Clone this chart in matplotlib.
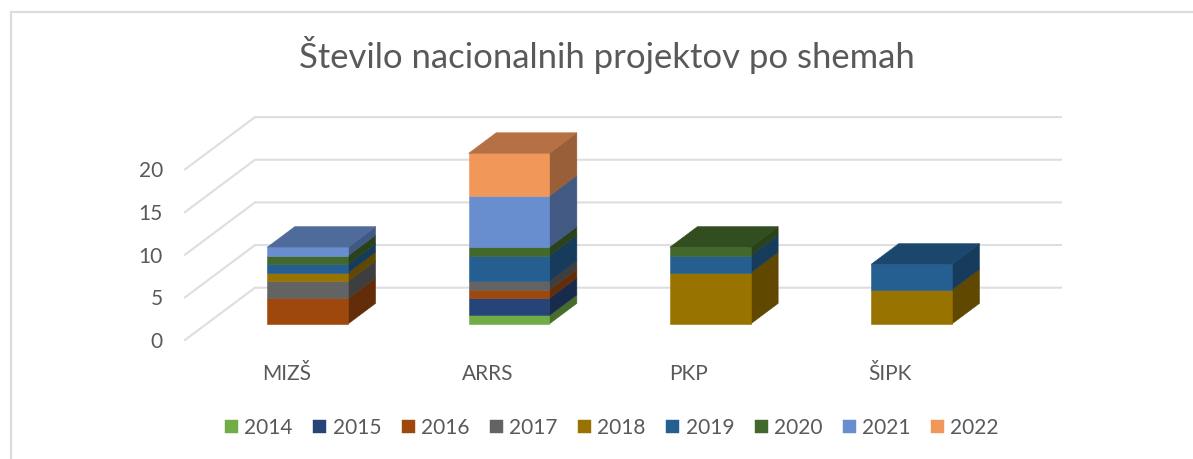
import matplotlib
matplotlib.use("Agg")
import matplotlib.pyplot as plt
from matplotlib.patches import Patch, Polygon, Rectangle
import numpy as np

title = "Število nacionalnih projektov po shemah"
categories = ["MIZŠ", "ARRS", "PKP", "ŠIPK"]
years = ["2014", "2015", "2016", "2017", "2018", "2019", "2020", "2021", "2022"]
colors = ["#70AD47", "#264478", "#9E480E", "#636363", "#997300",
          "#255E91", "#43682B", "#698ED0", "#F1975A"]
v2014 = [0, 1, 0, 0]
v2015 = [0, 2, 0, 0]
v2016 = [3, 1, 0, 0]
v2017 = [2, 1, 0, 0]
v2018 = [1, 0, 6, 4]
v2019 = [1, 3, 2, 3]
v2020 = [1, 1, 1, 0]
v2021 = [1, 6, 0, 0]
v2022 = [0, 5, 0, 0]
series = [v2014, v2015, v2016, v2017, v2018, v2019, v2020, v2021, v2022]
yticks = [0, 5, 10, 15, 20]

W, H = 1193, 459
PX_X0, PX_X1 = 185.0, 1061.0     # front-left of the floor, right end of grid
PX_Y0, PX_Y1 = 340.0, 116.7      # front floor line, top back grid
PX_PER_CAT = 201.3
PX_PER_VAL = 8.53
CAT0_PX = 286.2                  # category 0 tick on the front plane
DEPTH_X = 70.0 / PX_PER_CAT      # oblique shift of the full floor depth, data units
DEPTH_Y = 52.3 / PX_PER_VAL
BAR_W = 80.7 / PX_PER_CAT
D0, D1 = 0.306, 0.70             # floor depth occupied by bars


def shade(c, f):
    r = np.array(matplotlib.colors.to_rgb(c)) * f
    return tuple(r)


def P(x, y, d):
    return (x + d * DEPTH_X, y + d * DEPTH_Y)


fig = plt.figure(figsize=(W / 100, H / 100), dpi=100)
fig.patch.set_facecolor("white")
fig.add_artist(Rectangle((10.5 / W, -0.02), (W + 20) / W, 1.02 - 12 / H,
                         transform=fig.transFigure, fc="none", ec="#DCDCDC", lw=1.6))
ax = fig.add_axes([PX_X0 / W, 1 - PX_Y0 / H, (PX_X1 - PX_X0) / W, (PX_Y0 - PX_Y1) / H])
ax.patch.set_alpha(0)
ax.set_xlim((PX_X0 - CAT0_PX) / PX_PER_CAT, (PX_X1 - CAT0_PX) / PX_PER_CAT)
ax.set_ylim(0, (PX_Y0 - PX_Y1) / PX_PER_VAL)
for s in ax.spines.values():
    s.set_visible(False)

plt.rcParams["font.family"] = "Lato"
fs = 15
ax.set_xticks(range(len(categories)), categories, fontsize=15, color="#595959", family="Lato")
ax.set_yticks(yticks, [str(t) for t in yticks], fontsize=fs, color="#595959", family="Lato")
ax.tick_params(axis="x", length=0, pad=17.5)
ax.tick_params(axis="y", length=0, pad=16)

x_left = ax.get_xlim()[0]
x_right = ax.get_xlim()[1]
for t in yticks:
    a = (x_left, t)
    b = P(x_left, t, 1)
    ax.plot([a[0], b[0], x_right], [a[1], b[1], b[1]], color="#DEDEDE", lw=1.5,
            solid_joinstyle="miter", zorder=1, clip_on=False)

for i in range(len(categories)):
    xc = i
    xl = xc - BAR_W / 2
    xr = xl + BAR_W
    base = 0.0
    last = None
    for vals, col in zip(series, colors):
        v = vals[i]
        if v == 0:
            continue
        top = base + v
        side = [P(xr, base, D0), P(xr, base, D1), P(xr, top, D1), P(xr, top, D0)]
        front = [P(xl, base, D0), P(xr, base, D0), P(xr, top, D0), P(xl, top, D0)]
        ax.add_patch(Polygon(side, closed=True, fc=shade(col, 0.63), ec=shade(col, 0.63), lw=0.4, zorder=3))
        ax.add_patch(Polygon(front, closed=True, fc=col, ec=col, lw=0.4, zorder=3))
        base = top
        last = col
    roof = [P(xl, base, D0), P(xr, base, D0), P(xr, base, D1), P(xl, base, D1)]
    ax.add_patch(Polygon(roof, closed=True, fc=shade(last, 0.75), ec=shade(last, 0.75), lw=0.4, zorder=3))

fig.text(607 / W, 1 - 55 / H, title, ha="center", va="center", fontsize=24.9,
         color="#595959", family="Lato")

handles = [Patch(fc=c, ec=c, lw=0.3) for c in colors]
fig.legend(handles, years, loc="center", bbox_to_anchor=(612 / W, 1 - 428 / H), ncol=9,
           frameon=False, labelcolor="#595959", handlelength=0.62, handleheight=0.62,
           handletextpad=0.3, columnspacing=0.99, borderpad=0,
           prop={"family": "Lato", "size": fs})

fig.savefig("out.png", dpi=100)
